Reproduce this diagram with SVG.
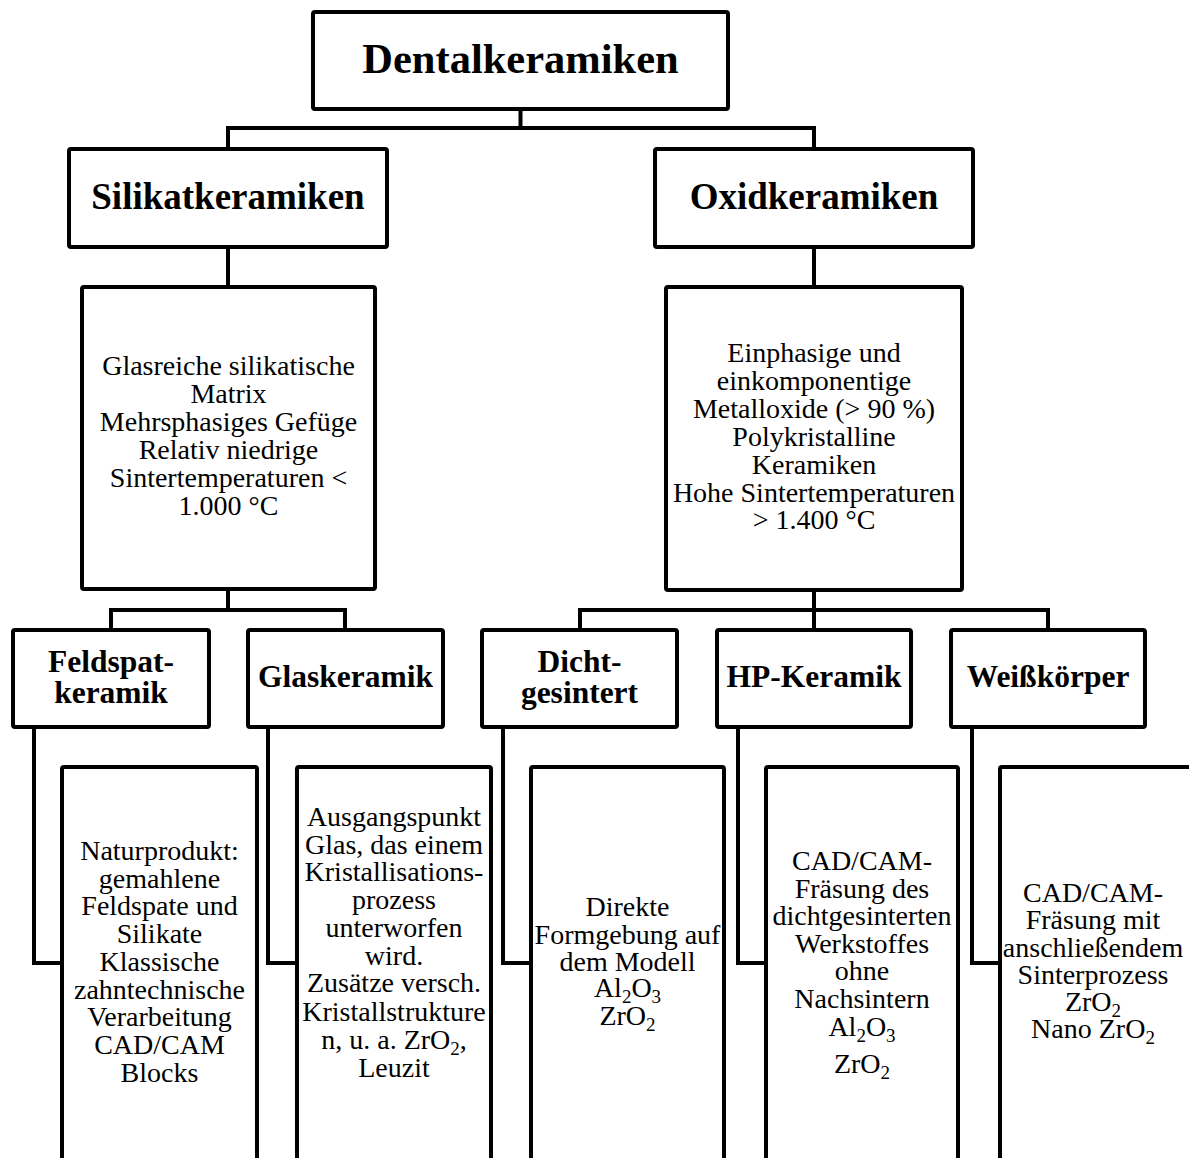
<svg xmlns="http://www.w3.org/2000/svg" width="1189" height="1158" viewBox="0 0 1189 1158">
<style>
.box{fill:#fff;stroke:#000;stroke-width:4;}
.con{fill:none;stroke:#000;stroke-width:4;stroke-linejoin:miter;stroke-linecap:square;}
text{font-family:"Liberation Serif","Times New Roman",serif;fill:#000;text-anchor:middle;}
.h1{font-size:42.5px;font-weight:bold;}
.h2{font-size:37px;font-weight:bold;}
.h3{font-size:31.5px;font-weight:bold;}
.t{font-size:28px;}
.sub{font-size:19px;}
</style>
<rect width="1189" height="1158" fill="#fff"/>
<g id="connectors">
<path class="con" d="M520.5,109 V128 M228,128 H814 M228,128 V149 M814,128 V149"/>
<path class="con" d="M228,247 V287"/>
<path class="con" d="M814,247 V287"/>
<path class="con" d="M228,589 V610 M111,610 H345 M111,610 V630 M345,610 V630"/>
<path class="con" d="M814,590 V630 M580,610 H1048 M580,610 V630 M1048,610 V630"/>
<path class="con" d="M34,727 V963 H62"/>
<path class="con" d="M268,727 V963 H297"/>
<path class="con" d="M503,727 V963 H531"/>
<path class="con" d="M738,727 V963 H766"/>
<path class="con" d="M972,727 V963 H1000"/>
</g>
<g id="dentalkeramiken">
<rect class="box" x="313" y="12" width="415" height="97" rx="2"/>
<text class="h1" x="520.5" y="73">Dentalkeramiken</text>
</g>
<g id="silikatkeramiken">
<rect class="box" x="69" y="149" width="318" height="98" rx="2"/>
<text class="h2" x="228" y="209">Silikatkeramiken</text>
</g>
<g id="oxidkeramiken">
<rect class="box" x="655" y="149" width="318" height="98" rx="2"/>
<text class="h2" x="814" y="209">Oxidkeramiken</text>
</g>
<g id="silikat-eigenschaften">
<rect class="box" x="82" y="287" width="293" height="302" rx="2"/>
<text class="t" x="228.5" y="375">Glasreiche silikatische</text>
<text class="t" x="228.5" y="403">Matrix</text>
<text class="t" x="228.5" y="431">Mehrsphasiges Gefüge</text>
<text class="t" x="228.5" y="459">Relativ niedrige</text>
<text class="t" x="228.5" y="487">Sintertemperaturen &lt;</text>
<text class="t" x="228.5" y="515">1.000 °C</text>
</g>
<g id="oxid-eigenschaften">
<rect class="box" x="666" y="287" width="296" height="303" rx="2"/>
<text class="t" x="814" y="362">Einphasige und</text>
<text class="t" x="814" y="390">einkomponentige</text>
<text class="t" x="814" y="418">Metalloxide (&gt; 90 %)</text>
<text class="t" x="814" y="446">Polykristalline</text>
<text class="t" x="814" y="474">Keramiken</text>
<text class="t" x="814" y="502">Hohe Sintertemperaturen</text>
<text class="t" x="814" y="529">&gt; 1.400 °C</text>
</g>
<g id="feldspatkeramik">
<rect class="box" x="13" y="630" width="196" height="97" rx="2"/>
<text class="h3" x="111" y="672">Feldspat-</text>
<text class="h3" x="111" y="703">keramik</text>
</g>
<g id="glaskeramik">
<rect class="box" x="248" y="630" width="195" height="97" rx="2"/>
<text class="h3" x="345.5" y="687">Glaskeramik</text>
</g>
<g id="dichtgesintert">
<rect class="box" x="482" y="630" width="195" height="97" rx="2"/>
<text class="h3" x="579.5" y="672">Dicht-</text>
<text class="h3" x="579.5" y="703">gesintert</text>
</g>
<g id="hp-keramik">
<rect class="box" x="717" y="630" width="194" height="97" rx="2"/>
<text class="h3" x="814" y="687">HP-Keramik</text>
</g>
<g id="weisskoerper">
<rect class="box" x="951" y="630" width="194" height="97" rx="2"/>
<text class="h3" x="1048" y="687">Weißkörper</text>
</g>
<g id="feldspat-details">
<rect class="box" x="62" y="767" width="195" height="420" rx="2"/>
<text class="t" x="159.5" y="860">Naturprodukt:</text>
<text class="t" x="159.5" y="888">gemahlene</text>
<text class="t" x="159.5" y="915">Feldspate und</text>
<text class="t" x="159.5" y="943">Silikate</text>
<text class="t" x="159.5" y="971">Klassische</text>
<text class="t" x="159.5" y="999">zahntechnische</text>
<text class="t" x="159.5" y="1026">Verarbeitung</text>
<text class="t" x="159.5" y="1054">CAD/CAM</text>
<text class="t" x="159.5" y="1082">Blocks</text>
</g>
<g id="glaskeramik-details">
<rect class="box" x="297" y="767" width="194" height="420" rx="2"/>
<text class="t" x="394" y="826">Ausgangspunkt</text>
<text class="t" x="394" y="853.5">Glas, das einem</text>
<text class="t" x="394" y="881">Kristallisations-</text>
<text class="t" x="394" y="908.5">prozess</text>
<text class="t" x="394" y="937">unterworfen</text>
<text class="t" x="394" y="964.5">wird.</text>
<text class="t" x="394" y="992">Zusätze versch.</text>
<text class="t" x="394" y="1021">Kristallstrukture</text>
<text class="t" x="394" y="1049">n, u. a. ZrO<tspan class="sub" dy="6">2</tspan><tspan dy="-6">,</tspan></text>
<text class="t" x="394" y="1077">Leuzit</text>
</g>
<g id="dichtgesintert-details">
<rect class="box" x="531" y="767" width="193" height="420" rx="2"/>
<text class="t" x="627.5" y="916">Direkte</text>
<text class="t" x="627.5" y="944">Formgebung auf</text>
<text class="t" x="627.5" y="971">dem Modell</text>
<text class="t" x="627.5" y="997">Al<tspan class="sub" dy="6">2</tspan><tspan dy="-6">O</tspan><tspan class="sub" dy="6">3</tspan></text>
<text class="t" x="627.5" y="1025">ZrO<tspan class="sub" dy="6">2</tspan></text>
</g>
<g id="hp-keramik-details">
<rect class="box" x="766" y="767" width="192" height="420" rx="2"/>
<text class="t" x="862" y="870">CAD/CAM-</text>
<text class="t" x="862" y="897.5">Fräsung des</text>
<text class="t" x="862" y="925">dichtgesinterten</text>
<text class="t" x="862" y="952.5">Werkstoffes</text>
<text class="t" x="862" y="980">ohne</text>
<text class="t" x="862" y="1007.5">Nachsintern</text>
<text class="t" x="862" y="1036">Al<tspan class="sub" dy="6">2</tspan><tspan dy="-6">O</tspan><tspan class="sub" dy="6">3</tspan></text>
<text class="t" x="862" y="1073">ZrO<tspan class="sub" dy="6">2</tspan></text>
</g>
<g id="weisskoerper-details">
<rect class="box" x="1000" y="767" width="194" height="420" rx="2"/>
<text class="t" x="1093" y="902">CAD/CAM-</text>
<text class="t" x="1093" y="929">Fräsung mit</text>
<text class="t" x="1093" y="957">anschließendem</text>
<text class="t" x="1093" y="984">Sinterprozess</text>
<text class="t" x="1093" y="1011">ZrO<tspan class="sub" dy="6">2</tspan></text>
<text class="t" x="1093" y="1038">Nano ZrO<tspan class="sub" dy="6">2</tspan></text>
</g>
</svg>
